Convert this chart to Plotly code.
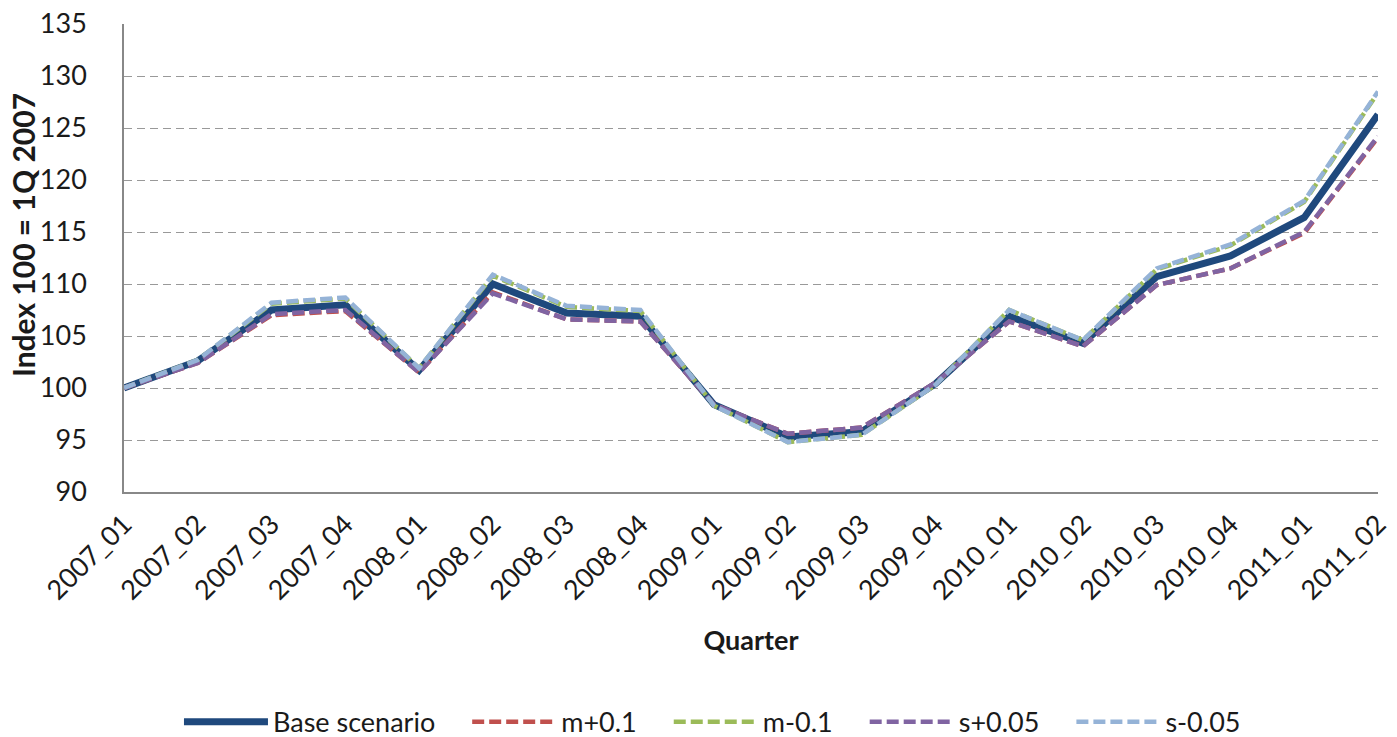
import plotly.graph_objects as go

quarters = ["2007_01", "2007_02", "2007_03", "2007_04", "2008_01", "2008_02",
            "2008_03", "2008_04", "2009_01", "2009_02", "2009_03", "2009_04",
            "2010_01", "2010_02", "2010_03", "2010_04", "2011_01", "2011_02"]

base = [100.0, 102.6, 107.5, 108.0, 101.7, 110.0, 107.2, 106.9, 98.4, 95.3,
        95.8, 100.4, 106.9, 104.3, 110.7, 112.7, 116.4, 126.3]
m_plus = [100.0, 102.4, 107.0, 107.4, 101.5, 109.2, 106.6, 106.4, 98.4, 95.6,
          96.2, 100.5, 106.4, 104.0, 109.9, 111.5, 114.9, 124.1]
m_minus = [100.0, 102.7, 108.1, 108.6, 101.9, 110.8, 107.8, 107.4, 98.3, 94.8,
           95.5, 100.3, 107.5, 104.6, 111.4, 113.7, 117.9, 128.4]
s_plus = [100.0, 102.4, 107.1, 107.5, 101.5, 109.1, 106.6, 106.4, 98.4, 95.6,
          96.2, 100.5, 106.4, 104.0, 109.9, 111.5, 115.0, 124.2]
s_minus = [100.0, 102.7, 108.2, 108.7, 101.9, 110.9, 107.9, 107.5, 98.3, 94.8,
           95.5, 100.3, 107.5, 104.6, 111.5, 113.8, 118.0, 128.5]

y_ticks = [90, 95, 100, 105, 110, 115, 120, 125, 130, 135]

x_idx = list(range(len(quarters)))
dash = "12px,5px"
# trailing en-spaces widen the gap between legend entries
pad = "\u2002\u2002"

fig = go.Figure()
fig.add_trace(go.Scatter(x=x_idx, y=base, name="Base scenario" + pad, mode="lines",
                         line=dict(color="#1F497D", width=7)))
fig.add_trace(go.Scatter(x=x_idx, y=m_plus, name="m+0.1" + pad, mode="lines",
                         line=dict(color="#C0504D", width=4.5, dash=dash)))
fig.add_trace(go.Scatter(x=x_idx, y=m_minus, name="m-0.1" + pad, mode="lines",
                         line=dict(color="#9BBB59", width=4.5, dash=dash)))
fig.add_trace(go.Scatter(x=x_idx, y=s_plus, name="s+0.05" + pad, mode="lines",
                         line=dict(color="#8064A2", width=4.5, dash=dash)))
fig.add_trace(go.Scatter(x=x_idx, y=s_minus, name="s-0.05", mode="lines",
                         line=dict(color="#95B3D7", width=4.5, dash=dash)))

font_family = "Lato, Open Sans, sans-serif"
text_color = "#1a1a1a"

fig.update_layout(
    width=1397, height=737,
    margin=dict(l=124, r=5, t=24, b=245),
    paper_bgcolor="white", plot_bgcolor="white",
    font=dict(family=font_family, color=text_color, size=27),
    showlegend=True,
    legend=dict(orientation="h", xref="container", x=0.51, xanchor="center",
                yref="container", y=0.02, yanchor="middle",
                font=dict(size=27, family=font_family, color=text_color),
                traceorder="normal", itemwidth=84),
    xaxis=dict(
        range=[0, len(quarters) - 1],
        tickmode="array", tickvals=x_idx, ticktext=quarters,
        tickangle=-45, tickfont=dict(size=27, family=font_family, color=text_color),
        ticklabeloverflow="allow",
        showgrid=False, zeroline=False,
        showline=True, linecolor="#888888", linewidth=1.5,
        ticks="", ticklabelstandoff=4,
        title=dict(text="<b>Quarter</b>", standoff=26,
                   font=dict(size=27, family=font_family, color=text_color)),
    ),
    yaxis=dict(
        range=[90, 135], tickmode="array", tickvals=y_ticks,
        tickfont=dict(size=27, family=font_family, color=text_color),
        showgrid=True, gridcolor="#999999", griddash="8px,5px", gridwidth=1.3,
        zeroline=False, showline=True, linecolor="#888888", linewidth=1.5,
        ticks="", ticklabelstandoff=30,
    ),
    annotations=[dict(
        text="<b>Index 100 = 1Q 2007</b>", textangle=-90,
        xref="paper", yref="paper", x=-0.081, y=0.55,
        xanchor="center", yanchor="middle", showarrow=False,
        font=dict(size=30, family=font_family, color=text_color),
    )],
)

fig.write_html("out.html")
